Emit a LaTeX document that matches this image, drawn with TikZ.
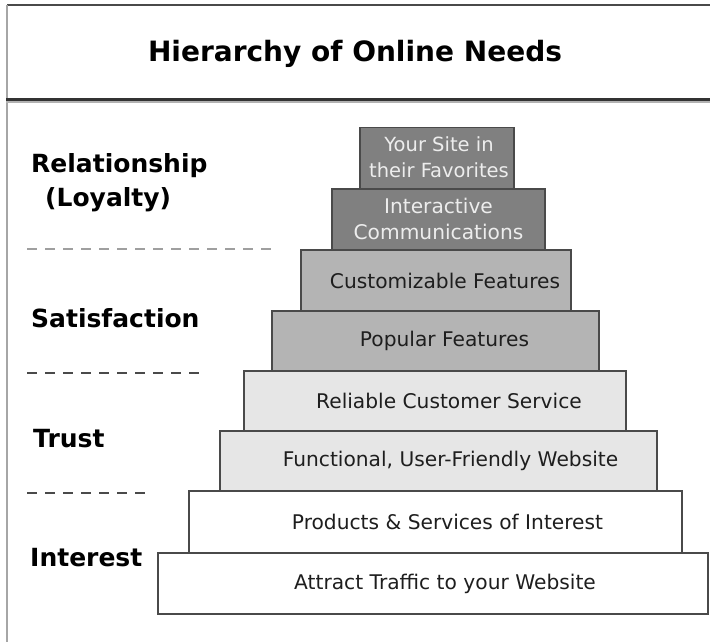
\documentclass[tikz,border=0pt]{standalone}
\usepackage{fontspec}
\setmainfont{DejaVu Sans}
\usepackage{tikz}
\usetikzlibrary{calc}
\definecolor{rimgray}{HTML}{4A4A4A}
\definecolor{topgray}{HTML}{808080}
\definecolor{midgray}{HTML}{B4B4B4}
\definecolor{lowgray}{HTML}{E6E6E6}
\definecolor{inkgray}{HTML}{1E1E1E}

\begin{document}
\begin{tikzpicture}[x=1pt,y=-1pt,
    tier/.style={draw=rimgray, line width=1.4pt, minimum height=#1, inner sep=0pt},
    tier/.default=61pt,
    tiertext/.style={text=inkgray, align=center, inner sep=0pt,
        font=\fontsize{20.2}{26}\selectfont},
    level/.style={anchor=base west, inner sep=0pt, text=black,
        font=\fontsize{25}{29}\selectfont\bfseries},
    sep/.style={line width=1.2pt, dash pattern=on 10pt off 8pt}]
    \useasboundingbox (0,0) rectangle (710,642);
    % frame and title bar
    \coordinate (TL) at (7,5);   \coordinate (TR) at (710,5);
    \coordinate (BL) at (7,642);
    \draw[rimgray, line width=1.5pt] (TR) -- (TL);
    \draw[gray!70, line width=1.5pt] (TL) -- (BL);
    \draw[gray!60, line width=2pt] (6,102) -- (710,102);
    \draw[black!80, line width=2.5pt] (6,99.5) -- (710,99.5);
    \node[anchor=base, inner sep=0pt, font=\fontsize{28}{32}\selectfont\bfseries]
        (title) at (355,62) {Hierarchy of Online Needs};
    % pyramid, top to bottom
    \node[tier, minimum width=154pt, fill=topgray] (fav)  at (437,158)   {};
    \node[tier, minimum width=213pt, fill=topgray] (comm) at (438.5,219.5) {};
    \node[tier, minimum width=270pt, fill=midgray] (cust) at (436,280.5) {};
    \node[tier=60pt, minimum width=327pt, fill=midgray] (pop)  at (435.5,341) {};
    \node[tier=60pt, minimum width=382pt, fill=lowgray] (serv) at (435,401)  {};
    \node[tier=60pt, minimum width=437pt, fill=lowgray] (func) at (438.5,461) {};
    \node[tier=62pt, minimum width=493pt, fill=white]   (prod) at (435.5,522) {};
    \node[tier, minimum width=550pt, fill=white]        (traf) at (433,583.5) {};
    \node[tiertext, text=white!93!black, font=\fontsize{19.5}{26}\selectfont]
        (favtext)  at ([xshift=2pt,yshift=1pt]fav.center) {Your Site in\\their Favorites};
    \node[tiertext, text=white!93!black] (commtext) at ([yshift=1pt]comm.center) {Interactive\\Communications};
    \node[tiertext] (custtext) at ([xshift=9pt]cust.center)  {Customizable Features};
    \node[tiertext] (poptext)  at ([xshift=9pt]pop.center)   {Popular Features};
    \node[tiertext] (servtext) at ([xshift=14pt]serv.center) {Reliable Customer Service};
    \node[tiertext] (functext) at ([xshift=12pt]func.center) {Functional, User-Friendly Website};
    \node[tiertext] (prodtext) at ([xshift=12pt]prod.center) {Products \& Services of Interest};
    \node[tiertext] (traftext) at ([xshift=12pt]traf.center) {Attract Traffic to your Website};
    % levels on the left
    \node[level] (rel)   at (31,172)   {Relationship};
    \node[level] (loyal) at (45,206)   {(Loyalty)};
    \node[level] (sat)   at (31,327)   {Satisfaction};
    \node[level] (trust) at (33,447)   {Trust};
    \node[level] (int)   at (30,566)   {Interest};
    \coordinate (s1a) at (27,249); \coordinate (s1b) at (272,249);
    \coordinate (s2a) at (27,373); \coordinate (s2b) at (202,373);
    \coordinate (s3a) at (27,493); \coordinate (s3b) at (148,493);
    \draw[sep, gray!75] (s1a) -- (s1b);
    \draw[sep, rimgray] (s2a) -- (s2b);
    \draw[sep, rimgray] (s3a) -- (s3b);
\end{tikzpicture}
\end{document}
